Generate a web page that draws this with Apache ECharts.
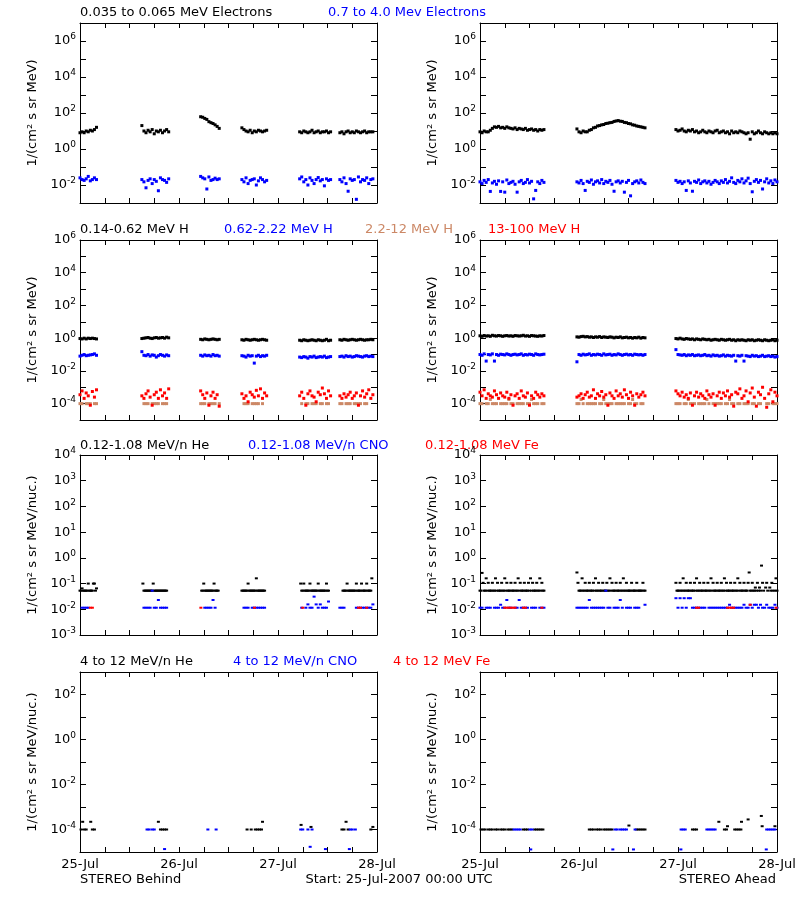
<!DOCTYPE html>
<html>
<head>
<meta charset="utf-8">
<script src="https://cdn.jsdelivr.net/npm/echarts@6.0.0/dist/echarts.min.js"></script>
<style>html,body{margin:0;padding:0;background:#fff}#chart{width:800px;height:900px}</style>
</head>
<body>
<div id="chart"></div>
<script>
// ---------------- DATA ----------------
// time in hours from 25-Jul-2007 00:00 UTC
const dayLabels = ['25-Jul', '26-Jul', '27-Jul', '28-Jul'];
const behindStarts = [0, 15, 29.25, 39.25, 53.25, 63];   // data segment starts (hours), STEREO Behind
const aheadStarts = [0, 23.5, 47.5];                    // data segment starts (hours), STEREO Ahead
const cadence = 0.5;      // hours between samples
const heCadence = 0.25;   // hours between samples, 0.12-1.08 MeV/n He

const titlesRow1 = ['0.035 to 0.065 MeV Electrons', '0.7 to 4.0 Mev Electrons'];
const titlesRow2 = ['0.14-0.62 MeV H', '0.62-2.22 MeV H', '2.2-12 MeV H', '13-100 MeV H'];
const titlesRow3 = ['0.12-1.08 MeV/n He', '0.12-1.08 MeV/n CNO', '0.12-1.08 MeV Fe'];
const titlesRow4 = ['4 to 12 MeV/n He', '4 to 12 MeV/n CNO', '4 to 12 MeV Fe'];
const yNameMeV = '1/(cm² s sr MeV)';
const yNameNuc = '1/(cm² s sr MeV/nuc.)';
const footLeft = 'STEREO Behind';
const footMid = 'Start: 25-Jul-2007 00:00 UTC';
const footRight = 'STEREO Ahead';

// Row 1: electrons
const behindElecLow = [
  [8,9,8,10,9,11,10,12,16],
  [20,10,8,11,9,12,7,10,9,11,8,10,12,9],
  [62,58,50,44,33,29,26,22,18,14],
  [15,12,10,9,11,8,10,9,11,10,9,10,11],
  [9,8,10,9,8,9,11,8,9,10,8,9,9,10,8,9],
  [8,9,7,9,10,8,9,8,10,9,8,9,10,8,9,9,9]
];
const behindElecHigh = [
  [.025,.02,.018,.022,.03,.017,.02,.025,.02],
  [.02,.015,.007,.018,.022,.012,.02,.016,.0048,.025,.02,.018,.014,.022],
  [.03,.025,.022,.006,.028,.018,.02,.024,.02,.022],
  [.02,.015,.025,.012,.018,.02,.022,.01,.017,.025,.02,.015,.018],
  [.022,.028,.015,.02,.01,.025,.018,.012,.02,.026,.017,.02,.009,.022,.018,.02],
  [.02,.015,.025,.012,.0045,.022,.018,.02,.0016,.028,.015,.02,.018,.025,.012,.02,.022]
];
const aheadElecLow = [
  [9,8,10,9,9,11,14,17,16,18,15,16,14,17,15,14,13,15,12,14,13,12,14,11,12,13,11,12,10,12,11,12],
  [13,9,8,10,9,9,11,12,15,16,19,20,22,23,26,27,29,30,34,36,38,35,34,30,29,26,25,22,21,19,18,17,16,15],
  [12,10,11,13,10,9,11,10,12,9,10,8,9,11,9,8,10,9,8,10,11,8,9,10,8,9,7,10,8,9,
   8,10,9,8,7,8,3.5,9,7,8,10,8,7,9,8,7,8,7,8,7]
];
const aheadElecHigh = [
  [.015,.012,.018,.014,.02,.0044,.013,.016,.011,.017,.0044,.015,.004,.019,.012,.014,.016,.011,.004,.015,
   .018,.012,.014,.02,.013,.016,.0017,.005,.015,.012,.018,.014],
  [.015,.013,.018,.012,.005,.016,.014,.019,.011,.015,.017,.013,.02,.012,.016,.014,.018,.011,.0045,.015,
   .017,.013,.016,.004,.014,.018,.0025,.012,.015,.017,.013,.019,.014,.012],
  [.018,.014,.016,.012,.015,.005,.017,.013,.0045,.016,.014,.019,.012,.015,.017,.013,.016,.011,.014,.018,
   .015,.012,.017,.014,.02,.013,.016,.025,.014,.012,.018,.015,.022,.013,.017,.024,.012,.0042,.016,.02,
   .014,.018,.006,.015,.022,.013,.017,.012,.019,.015]
];

// Row 2: protons
const behindHLow = [
  [.95,.9,1.0,.9,1.0,.95,1.0,.95,.9],
  [.95,1.0,1.05,1.1,1.0,.95,1.05,1.1,1.0,1.05,1.1,1.0,1.15,1.05],
  [.85,.8,.9,.85,.8,.85,.9,.85,.8,.85],
  [.8,.75,.85,.8,.75,.8,.85,.8,.75,.8,.85,.8,.75],
  [.75,.7,.8,.75,.7,.75,.8,.75,.7,.8,.75,.7,.75,.85,.7,.75],
  [.8,.75,.85,.8,.75,.8,.85,.8,.75,.8,.85,.8,.75,.8,.8,.85,.8]
];
const behindHMid = [
  [.08,.09,.1,.085,.09,.095,.1,.11,.09],
  [.15,.09,.085,.1,.08,.095,.09,.07,.085,.1,.09,.08,.095,.085],
  [.09,.08,.095,.085,.09,.08,.1,.085,.09,.08],
  [.085,.08,.07,.09,.08,.085,.03,.08,.09,.075,.085,.08,.09],
  [.07,.065,.075,.07,.06,.075,.07,.08,.065,.07,.075,.07,.08,.065,.07,.075],
  [.075,.08,.07,.085,.075,.08,.07,.075,.085,.08,.075,.07,.08,.085,.075,.08,.075]
];
const behindHMid2 = [
  [1e-4,1e-4,null,1e-4,1e-4,1e-4,null,1e-4,1e-4],
  [null,1e-4,1e-4,1e-4,null,1e-4,1e-4,1e-4,1e-4,null,1e-4,1e-4,1e-4,null],
  [1e-4,1e-4,1e-4,null,1e-4,1e-4,1e-4,1e-4,null,1e-4],
  [null,1e-4,1e-4,1e-4,null,1e-4,1e-4,1e-4,1e-4,null,1e-4,null,null],
  [null,1e-4,null,1e-4,1e-4,null,1e-4,1e-4,1e-4,null,1e-4,1e-4,null,1e-4,1e-4,null],
  [1e-4,1e-4,null,1e-4,1e-4,1e-4,null,1e-4,1e-4,1e-4,1e-4,null,1e-4,1e-4,null,null,null]
];
const behindHHigh = [
  [3.5e-4,6e-4,2.1e-4,4.5e-4,3e-4,8e-5,5.5e-4,2.5e-4,7e-4],
  [3e-4,2.1e-4,4e-4,6e-4,2.5e-4,8e-5,3.5e-4,5e-4,2.1e-4,7e-4,3e-4,4.5e-4,2.1e-4,8e-4],
  [6e-4,3.5e-4,2.1e-4,4.5e-4,8e-5,3e-4,5e-4,2.1e-4,3.5e-4,7e-5],
  [4e-4,2.1e-4,3e-4,1.3e-4,5e-4,3.5e-4,2.5e-4,6.5e-4,3e-4,8e-4,2.1e-4,4.5e-4,3e-4],
  [3e-4,5e-4,2.1e-4,8e-5,4e-4,6e-4,3e-4,2.5e-4,1.3e-4,5e-4,3.5e-4,9e-4,4e-4,2.1e-4,6e-4,3e-4],
  [3e-4,2.1e-4,4e-4,2.5e-4,3.5e-4,5e-4,2.1e-4,3e-4,4.5e-4,8e-5,3e-4,6e-4,2.5e-4,4e-4,7e-4,2.1e-4,3.5e-4]
];
const aheadHLow = [
  [1.4,1.3,1.45,1.35,1.4,1.3,1.5,1.4,1.35,1.45,1.4,1.3,1.4,1.45,1.35,1.4,1.3,1.45,1.4,1.35,
   1.4,1.5,1.35,1.4,1.3,1.45,1.4,1.35,1.3,1.4,1.35,1.45],
  [1.2,1.15,1.25,1.3,1.2,1.25,1.15,1.2,1.1,1.2,1.15,1.25,1.1,1.2,1.15,1.1,1.2,1.15,1.05,1.15,
   1.1,1.2,1.05,1.1,1.15,1.05,1.1,1.0,1.1,1.05,1.15,1.0,1.1,1.05],
  [.95,.9,1.0,.9,.85,.95,.9,.85,.9,.8,.9,.85,.8,.9,.85,.8,.85,.75,.8,.85,
   .8,.75,.85,.8,.75,.8,.85,.75,.8,.7,.8,.75,.8,.75,.7,.8,.75,.8,.7,.75,
   .8,.75,.7,.8,.75,.7,.75,.8,.7,.75]
];
const aheadHMid = [
  [.1,.09,.11,.04,.1,.095,.11,.04,.1,.09,.105,.1,.095,.11,.1,.09,.1,.105,.095,.1,
   .11,.09,.1,.095,.105,.1,.09,.11,.1,.095,.1,.105],
  [.036,.1,.09,.105,.095,.1,.11,.09,.1,.095,.105,.1,.09,.11,.095,.1,.105,.09,.1,.095,
   .11,.1,.09,.1,.105,.095,.1,.09,.105,.1,.095,.1,.09,.1],
  [.2,.1,.095,.09,.1,.085,.095,.09,.1,.085,.09,.095,.085,.09,.1,.085,.09,.08,.095,.085,
   .09,.08,.085,.095,.08,.09,.085,.08,.09,.04,.085,.08,.09,.04,.085,.08,.075,.09,.08,.085,
   .075,.08,.09,.075,.08,.085,.075,.08,.07,.075]
];
const aheadHMid2 = [
  [1e-4,1e-4,null,1e-4,1e-4,1.8e-4,1e-4,1e-4,1e-4,null,1e-4,1e-4,1e-4,1e-4,1.8e-4,1e-4,1e-4,null,1e-4,1e-4,
   1e-4,1e-4,null,1e-4,1e-4,1.8e-4,1e-4,1e-4,1e-4,null,1e-4,1e-4],
  [1e-4,1e-4,1.8e-4,1e-4,null,1e-4,1e-4,1e-4,1e-4,1e-4,null,1e-4,1e-4,1.8e-4,1e-4,1e-4,1e-4,1e-4,null,1e-4,
   1e-4,1e-4,1e-4,1e-4,null,1e-4,1e-4,1.8e-4,1e-4,1e-4,null,1e-4,1e-4,null],
  [1e-4,1e-4,1e-4,null,1e-4,1e-4,1.8e-4,1e-4,1e-4,1e-4,null,1e-4,1e-4,1e-4,1e-4,1.8e-4,1e-4,null,1e-4,1e-4,
   1e-4,1e-4,1e-4,null,1e-4,1e-4,1.8e-4,1e-4,1e-4,null,1e-4,1e-4,null,1e-4,1e-4,1e-4,null,1e-4,1e-4,null,
   1e-4,1e-4,null,null,1e-4,1e-4,null,1e-4,1e-4,1e-4]
];
const aheadHHigh = [
  [5e-4,3e-4,7e-4,2.1e-4,4e-4,3e-4,2.5e-4,6e-4,3.5e-4,2.1e-4,4.5e-4,3e-4,2.5e-4,5e-4,2.1e-4,3.5e-4,8e-5,3e-4,4e-4,2.1e-4,
   6e-4,3e-4,2.5e-4,4.5e-4,8e-5,3e-4,2.1e-4,5e-4,3.5e-4,2.5e-4,4e-4,3e-4],
  [2.5e-4,3e-4,4e-4,2.1e-4,3.5e-4,5e-4,2.5e-4,3e-4,7e-4,2.1e-4,4e-4,3e-4,5.5e-4,2.5e-4,3.5e-4,8e-5,4.5e-4,3e-4,2.1e-4,6e-4,
   3e-4,4e-4,2.5e-4,7e-4,3.5e-4,2.1e-4,5e-4,3e-4,8e-5,4e-4,2.5e-4,3.5e-4,5e-4,3e-4],
  [6e-4,4e-4,3e-4,5e-4,2.5e-4,3.5e-4,2.1e-4,4.5e-4,8e-5,3e-4,5e-4,2.5e-4,4e-4,3e-4,2.1e-4,6e-4,3.5e-4,2.5e-4,4e-4,8e-5,
   3e-4,5e-4,2.1e-4,4.5e-4,3e-4,6e-4,2.5e-4,3.5e-4,7e-5,5e-4,4e-4,8e-4,2.1e-4,3e-4,6e-4,1.3e-4,4.5e-4,9e-4,2.5e-4,7e-5,
   5e-4,3.5e-4,1e-3,2.1e-4,6e-5,4e-4,7e-4,1.3e-4,5e-4,3e-4]
];

// Row 3: 0.12-1.08 MeV/n ions (He at 15-min samples)
const behindHe = [
  [.053,.053,.065,.053,.053,.053,.053,.053,.1,.053,.053,.053,.053,.1,.1,.053,.065],
  [null,.1,.053,.053,.053,.053,.053,.053,.053,.053,.053,.1,.053,.053,.053,.053,.053,.053,.053,.053,
   .053,.053,.053,.053,.053,null,null],
  [null,.053,.053,.1,.053,.053,.053,.053,.053,.053,.053,.053,.053,.1,.053,.053,.053,.053,null],
  [.053,.053,.053,.053,.053,.053,.1,.053,.053,.053,.053,.053,.053,.053,.16,.053,.053,.053,.053,.053,
   .053,.053,.053,null,null],
  [null,.1,.053,.053,.1,.053,.053,.053,.053,.053,.1,.053,.053,.053,.053,.053,.053,.053,.1,.053,
   .053,.053,.053,.053,.053,.053,.1,.053,.053,null,null],
  [null,null,null,.053,.053,.053,.053,.1,.053,.053,.053,.053,.053,.053,.053,.053,.1,.053,.053,.053,
   .053,.1,.053,.053,.053,.053,.1,.053,.053,.053,.053,.16,null]
];
const behindCNO = [
  [null,.0115,.0115,.0115,.0115,null,null,null,null],
  [null,.0115,.0115,.0115,.0115,.053,.0115,.0115,.023,.0115,.0115,.0115,.0115,null],
  [null,null,.0115,.0115,.0115,.0115,.023,.0115,null,null],
  [null,.0115,.0115,.0115,null,.0115,.0115,.0115,.0115,.0115,.0115,.0115,null],
  [null,.0115,null,.0115,.0155,.0115,.0115,.031,.0155,.0115,.0155,.0115,.0115,.0115,.02,null],
  [.0115,.0115,.0115,null,null,null,null,null,.0115,.0115,.0115,.0115,.0115,.0115,.0115,.0115,.0155]
];
const behindFe = [[2.5,.0115],[3,.0115],[29.3,.0115],[42.3,.0115],[54,.0115],[67.5,.0115],[68,.0115],[69.5,.0115]];
const aheadHe = [
  [.053,.053,.26,.107,.053,.053,.16,.053,.107,.053,.053,.053,.107,.053,.053,.16,.053,.107,.053,.053,
   .053,.107,.053,.053,.16,.053,.107,.053,.053,.053,.107,.053,.053,.053,.107,.053,.053,.16,.053,.107,
   .053,.053,.053,.107,.053,.053,.053,.107,.053,.16,.053,.107,.053,.053,.053,.107,.053,.053,.16,.053,
   .107,.053,.053],
  [.27,.107,.053,.053,.053,.16,.053,.053,.107,.053,.053,.053,.107,.053,.053,.053,.107,.053,.16,.053,
   .053,.107,.053,.053,.053,.107,.053,.053,.053,.107,.053,.053,.16,.053,.107,.053,.053,.053,.107,.053,
   .053,.053,.107,.053,.053,.16,.053,.053,.107,.053,.053,.053,.053,.107,.053,.053,.053,.053,.107,.053,
   .053,.053,.053,.053,.107,.053,.053],
  [.107,.053,.053,.053,.107,.053,.053,.16,.053,.053,.107,.053,.053,.053,.107,.053,.053,.053,.107,.053,
   .16,.053,.053,.107,.053,.053,.053,.107,.053,.053,.053,.107,.053,.053,.16,.053,.107,.053,.053,.053,
   .107,.053,.053,.053,.107,.053,.053,.16,.053,.107,.053,.053,.053,.107,.053,.053,.053,.107,.053,.053,
   .16,.053,.107,.053,.053,.053,.107,.053,.053,.053,.107,.27,.053,.053,.107,.053,.053,.07,.053,.107,
   .053,.07,.053,.5,.107,.053,null,.07,.107,.053,null,.07,.053,.107,.053,null,.053,.16,.053]
];
const aheadCNO = [
  [.0115,.0115,null,.0115,.0115,.0115,null,.0115,.0115,.0115,.015,.0115,.0115,.023,.0115,.0115,null,.0115,.0115,.023,
   .0115,.0115,.0115,.0115,null,.0115,.0115,.0115,null,.0115,.0115,.0115],
  [.0115,.0115,.0115,.0115,.0115,.0115,.023,.0115,.0115,.0115,.0115,.0115,.0115,.0115,.053,.0115,.0115,null,.0115,.0115,
   .0115,.023,.0115,null,.0115,.0115,.0115,null,.0115,.0115,.0115,null,null,.015],
  [.027,.0115,.027,.0115,.027,.0115,.027,.027,.0115,.0115,.0115,.0115,.0115,.0115,.0115,null,.0115,.0115,.0115,.0115,
   .0115,.0115,.0115,.0115,.0115,.0115,.015,.0115,.0115,.0115,.0115,.0115,.0115,.015,.0115,.0115,.015,.0115,.015,.015,
   .0115,.015,.0115,.0115,.015,.0115,.0115,.0115,.015,.0115]
];
const aheadFe = [[6,.0115],[6.5,.0115],[7,.0115],[7.5,.0115],[8,.0115],[8.5,.0115],[10.5,.0115],[11,.0115],[15,.0115],
  [52.5,.0115],[53,.0115],[60,.0115],[60.5,.0115],[61,.0115],[61.5,.0115],[65.5,.015],[71.8,.0115]];

// Row 4: 4-12 MeV/n ions, [hour, value]
const behindHe4 = [[0.25,1e-4],[0.65,2.2e-4],[1,1e-4],[1.5,1e-4],[2.6,2.2e-4],[3,1e-4],[3.5,1e-4],
  [19,2.2e-4],[19.5,1e-4],[20,1e-4],[20.5,1e-4],[21,1e-4],
  [40.5,1e-4],[41.5,1e-4],[42.5,1e-4],[43,1e-4],[43.5,1e-4],[44,1e-4],[44.25,2.2e-4],
  [53.6,1.6e-4],[56,1.3e-4],[63.5,1e-4],[64,1e-4],[64.5,2.2e-4],[65,1e-4],[70.5,1e-4],[71,1.3e-4]];
const behindCNO4 = [[16.25,1e-4],[16.75,1e-4],[17.5,1e-4],[18,1e-4],[20.5,1.35e-5],[31,1e-4],[33,1e-4],
  [53.5,1e-4],[54,1e-4],[55.25,1e-4],[55.8,1.7e-5],[56.25,1e-4],[59.5,1.35e-5],
  [65.3,1.35e-5],[65.5,1e-4],[66,1e-4],[66.75,1e-4]];
const behindFe4 = [];
const aheadHe4 = [[0.25,1e-4],[0.75,1e-4],[1.25,1e-4],[2,1e-4],[2.5,1e-4],[3,1e-4],[3.75,1e-4],[4.25,1e-4],[5,1e-4],
  [5.5,1e-4],[6,1e-4],[6.75,1e-4],[7.25,1e-4],[7.75,1e-4],[10.5,1e-4],[11,1e-4],[11.5,1e-4],
  [13.25,1e-4],[13.75,1e-4],[14.25,1e-4],[14.75,1e-4],[15.25,1e-4],
  [26.5,1e-4],[27,1e-4],[27.5,1e-4],[28.25,1e-4],[28.75,1e-4],[29.25,1e-4],[30,1e-4],[30.5,1e-4],[31,1e-4],
  [31.5,1e-4],[32,1e-4],[36.1,1.5e-4],[38,1e-4],[38.5,1e-4],[39,1e-4],[39.5,1e-4],[40,1e-4],
  [51.5,1e-4],[52,1e-4],[52.5,1e-4],[57.9,2.2e-4],[59.25,1e-4],[59.75,1e-4],[60,1.4e-4],
  [61.75,1e-4],[62.25,1e-4],[62.75,1e-4],[63.25,1e-4],[63.4,2.2e-4],[65,2.8e-4],[68.2,4e-4],[68.4,1.4e-4],[71.5,1.4e-4]];
const aheadCNO4 = [[8.25,1e-4],[8.75,1e-4],[9.25,1e-4],[9.75,1e-4],[12.1,1e-4],[12.3,1.3e-5],[12.6,1e-4],
  [32.2,1.3e-5],[32.75,1e-4],[33.25,1e-4],[34,1e-4],[34.5,1e-4],[35,1e-4],[35.5,1e-4],[37.2,1.3e-5],[37.6,1e-4],
  [48.7,1.3e-5],[48.75,1e-4],[49.25,1e-4],[49.75,1e-4],[55,1e-4],[55.5,1e-4],[56,1e-4],[56.5,1e-4],[57,1e-4],
  [69.4,1.3e-5],[69.5,1e-4],[70,1e-4],[70.5,1e-4],[71,1e-4],[71.5,1e-4]];
const aheadFe4 = [];

// ---------------- LAYOUT / STYLE ----------------
const FONT = '"DejaVu Sans", sans-serif';
const BLACK = '#000000', BLUE = '#0000ff', RED = '#ff0000', BROWN = '#cc8866';
const colLeft = [80, 480];
const plotW = 297, plotH = 180;
const rowTop = [23, 240, 455, 672];
const rowAxis = [
  {min: 1e-3, max: 1e7, decades: 10, labelStep: 2, name: yNameMeV},
  {min: 1e-5, max: 1e6, decades: 11, labelStep: 2, name: yNameMeV},
  {min: 1e-3, max: 1e4, decades: 7, labelStep: 1, name: yNameNuc},
  {min: 1e-5, max: 1e3, decades: 8, labelStep: 2, name: yNameNuc}
];

function segPoints(starts, step, segs) {
  const out = [];
  segs.forEach((vals, k) => {
    vals.forEach((v, i) => { if (v !== null) out.push([starts[k] + i * step, v]); });
  });
  return out;
}

const panels = [
  {row: 0, col: 0, series: [
    {data: segPoints(behindStarts, cadence, behindElecLow), color: BLACK},
    {data: segPoints(behindStarts, cadence, behindElecHigh), color: BLUE}]},
  {row: 0, col: 1, series: [
    {data: segPoints(aheadStarts, cadence, aheadElecLow), color: BLACK},
    {data: segPoints(aheadStarts, cadence, aheadElecHigh), color: BLUE}]},
  {row: 1, col: 0, series: [
    {data: segPoints(behindStarts, cadence, behindHLow), color: BLACK},
    {data: segPoints(behindStarts, cadence, behindHMid), color: BLUE},
    {data: segPoints(behindStarts, cadence, behindHMid2), color: BROWN},
    {data: segPoints(behindStarts, cadence, behindHHigh), color: RED}]},
  {row: 1, col: 1, series: [
    {data: segPoints(aheadStarts, cadence, aheadHLow), color: BLACK},
    {data: segPoints(aheadStarts, cadence, aheadHMid), color: BLUE},
    {data: segPoints(aheadStarts, cadence, aheadHMid2), color: BROWN},
    {data: segPoints(aheadStarts, cadence, aheadHHigh), color: RED}]},
  {row: 2, col: 0, series: [
    {data: segPoints(behindStarts, heCadence, behindHe), color: BLACK},
    {data: segPoints(behindStarts, cadence, behindCNO), color: BLUE},
    {data: behindFe, color: RED}]},
  {row: 2, col: 1, series: [
    {data: segPoints(aheadStarts, heCadence, aheadHe), color: BLACK},
    {data: segPoints(aheadStarts, cadence, aheadCNO), color: BLUE},
    {data: aheadFe, color: RED}]},
  {row: 3, col: 0, series: [
    {data: behindHe4, color: BLACK},
    {data: behindCNO4, color: BLUE},
    {data: behindFe4, color: RED}]},
  {row: 3, col: 1, series: [
    {data: aheadHe4, color: BLACK},
    {data: aheadCNO4, color: BLUE},
    {data: aheadFe4, color: RED}]}
];

function yFormatter(step) {
  return function (value) {
    const e = Math.round(Math.log10(value));
    if (((e % step) + step) % step !== 0) return '';
    return '{b|10}{s|' + e + '}';
  };
}

const grids = [], xAxes = [], yAxes = [], series = [];
const lineStyle = {color: '#000', width: 1};
panels.forEach((p) => {
  const ra = rowAxis[p.row];
  grids.push({left: colLeft[p.col], top: rowTop[p.row], width: plotW, height: plotH});
  const g = grids.length - 1;
  const xi = xAxes.length, yi = yAxes.length;
  const xBase = {gridIndex: g, type: 'value', min: 0, max: 72, interval: 6,
    axisLine: {show: true, onZero: false, lineStyle},
    axisTick: {show: true, inside: true, length: 5, lineStyle},
    splitLine: {show: false}};
  xAxes.push(Object.assign({}, xBase, {position: 'bottom',
    axisLabel: {show: p.row === 3, showMinLabel: true, showMaxLabel: true, margin: 6,
      color: '#000', fontFamily: FONT, fontSize: 13,
      formatter: (v) => (v % 24 === 0 ? dayLabels[v / 24] : '')}}));
  xAxes.push(Object.assign({}, xBase, {position: 'top', axisLabel: {show: false}}));
  const yBase = {gridIndex: g, type: 'log', logBase: 10, min: ra.min, max: ra.max,
    splitNumber: ra.decades, interval: 1,
    axisLine: {show: true, onZero: false, lineStyle},
    axisTick: {show: true, inside: true, length: 6, lineStyle},
    minorTick: {show: false}, splitLine: {show: false}};
  yAxes.push(Object.assign({}, yBase, {position: 'left',
    axisLabel: {show: true, showMinLabel: true, showMaxLabel: true, margin: 4, formatter: yFormatter(ra.labelStep),
      rich: {
        b: {fontSize: 13, fontFamily: FONT, color: '#000'},
        s: {fontSize: 9, fontFamily: FONT, color: '#000', padding: [0, 0, 8, 0]}
      }}}));
  yAxes.push(Object.assign({}, yBase, {position: 'right', axisLabel: {show: false}}));
  p.series.forEach((s) => {
    series.push({type: 'scatter', xAxisIndex: xi, yAxisIndex: yi, data: s.data,
      symbol: 'rect', symbolSize: p.row < 2 ? 3 : [3, 2],
      itemStyle: {color: s.color, opacity: 1}, silent: true, animation: false});
  });
});

// text elements
const graphics = [];
function addText(text, x, y, color, align, rot) {
  graphics.push({type: 'text', x: x, y: y, rotation: rot || 0, silent: true,
    style: {text: text, fill: color, font: '13px ' + FONT, align: align || 'left', verticalAlign: 'middle'}});
}
const titleRows = [
  {texts: titlesRow1, xs: [80, 328], colors: [BLACK, BLUE], y: 13},
  {texts: titlesRow2, xs: [80, 224, 365, 488], colors: [BLACK, BLUE, BROWN, RED], y: 230},
  {texts: titlesRow3, xs: [80, 248, 425], colors: [BLACK, BLUE, RED], y: 446},
  {texts: titlesRow4, xs: [80, 233, 393], colors: [BLACK, BLUE, RED], y: 662}
];
titleRows.forEach((tr) => tr.texts.forEach((t, i) => addText(t, tr.xs[i], tr.y, tr.colors[i])));
rowAxis.forEach((ra, r) => {
  [33, 433].forEach((x) => addText(ra.name, x, rowTop[r] + plotH / 2, BLACK, 'center', Math.PI / 2));
});
addText(footLeft, 80, 880, BLACK, 'left');
addText(footMid, 399, 880, BLACK, 'center');
addText(footRight, 776, 880, BLACK, 'right');

const chart = echarts.init(document.getElementById('chart'), null, {renderer: 'canvas'});
chart.setOption({
  animation: false,
  backgroundColor: '#ffffff',
  textStyle: {fontFamily: FONT},
  grid: grids,
  xAxis: xAxes,
  yAxis: yAxes,
  series: series,
  graphic: graphics
});
</script>
</body>
</html>
